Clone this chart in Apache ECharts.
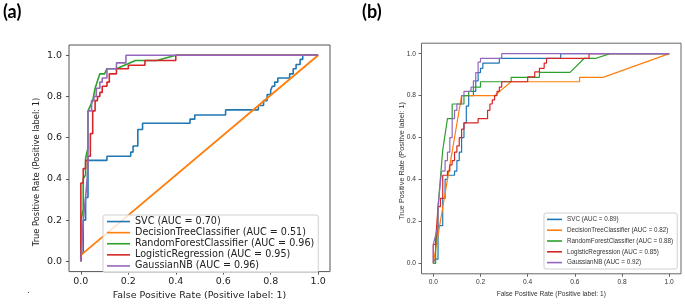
<!DOCTYPE html>
<html><head><meta charset="utf-8">
<script src="https://cdn.jsdelivr.net/npm/echarts@6/dist/echarts.min.js"></script>
<style>html,body{margin:0;padding:0;background:#fff}#c{width:685px;height:306px}</style>
</head><body><div id="c"></div>
<script>
// ---- data ----
const tickValues = [0, 0.2, 0.4, 0.6, 0.8, 1.0];
const xTitle = 'False Positive Rate (Positive label: 1)';
const yTitle = 'True Positive Rate (Positive label: 1)';
const panelLabels = ['(a)', '(b)'];
const namesA = ['SVC (AUC = 0.70)', 'DecisionTreeClassifier (AUC = 0.51)', 'RandomForestClassifier (AUC = 0.96)', 'LogisticRegression (AUC = 0.95)', 'GaussianNB (AUC = 0.96)'];
const namesB = ['SVC (AUC = 0.89)', 'DecisionTreeClassifier (AUC = 0.82)', 'RandomForestClassifier (AUC = 0.88)', 'LogisticRegression (AUC = 0.85)', 'GaussianNB (AUC = 0.92)'];

// panel (a): [fpr, tpr]
const svcA = [[0,0],[0,0.04],[0.01,0.04],[0.01,0.2],[0.02,0.2],[0.02,0.31],[0.03,0.31],[0.03,0.49],[0.11,0.49],[0.11,0.51],[0.21,0.51],[0.21,0.53],[0.22,0.53],[0.22,0.56],[0.24,0.56],[0.24,0.64],[0.26,0.64],[0.26,0.67],[0.46,0.67],[0.46,0.69],[0.48,0.69],[0.48,0.71],[0.61,0.71],[0.61,0.735],[0.748,0.735],[0.748,0.756],[0.77,0.756],[0.77,0.78],[0.785,0.78],[0.785,0.81],[0.8,0.81],[0.8,0.83],[0.807,0.83],[0.807,0.85],[0.817,0.85],[0.817,0.87],[0.83,0.87],[0.83,0.89],[0.88,0.89],[0.88,0.91],[0.895,0.91],[0.895,0.935],[0.907,0.935],[0.907,0.955],[0.924,0.955],[0.924,0.98],[0.935,0.98],[0.935,1],[1,1]];
const dtA = [[0,0],[0,0.03],[1,1]];
const rfA = [[0,0],[0,0.2],[0.01,0.25],[0.01,0.4],[0.02,0.42],[0.02,0.5],[0.03,0.55],[0.03,0.73],[0.05,0.78],[0.06,0.84],[0.08,0.91],[0.1,0.91],[0.11,0.935],[0.15,0.935],[0.23,0.975],[0.32,0.975],[0.4,1],[1,1]];
const lrA = [[0,0],[0,0.38],[0.01,0.38],[0.01,0.45],[0.02,0.45],[0.02,0.49],[0.03,0.49],[0.03,0.51],[0.04,0.51],[0.04,0.62],[0.05,0.62],[0.05,0.73],[0.06,0.73],[0.06,0.78],[0.07,0.78],[0.07,0.8],[0.08,0.8],[0.08,0.82],[0.09,0.82],[0.09,0.85],[0.11,0.85],[0.11,0.87],[0.12,0.87],[0.12,0.91],[0.15,0.91],[0.15,0.935],[0.2,0.935],[0.2,0.952],[0.27,0.952],[0.27,0.975],[0.4,0.975],[0.4,1],[1,1]];
const gnbA = [[0,0],[0.01,0.2],[0.02,0.31],[0.03,0.45],[0.03,0.73],[0.045,0.73],[0.045,0.78],[0.055,0.78],[0.055,0.8],[0.065,0.8],[0.065,0.84],[0.08,0.84],[0.08,0.87],[0.09,0.87],[0.09,0.89],[0.11,0.89],[0.11,0.935],[0.15,0.935],[0.15,0.963],[0.19,0.963],[0.19,1],[1,1]];

// panel (b): [fpr, tpr]
const svcB = [[0,0],[0.007,0],[0.007,0.02],[0.02,0.02],[0.02,0.18],[0.04,0.18],[0.04,0.31],[0.05,0.31],[0.05,0.4],[0.06,0.4],[0.06,0.42],[0.09,0.42],[0.09,0.44],[0.1,0.44],[0.1,0.49],[0.11,0.49],[0.11,0.53],[0.12,0.53],[0.12,0.6],[0.13,0.6],[0.13,0.67],[0.14,0.67],[0.14,0.75],[0.15,0.75],[0.15,0.8],[0.17,0.8],[0.17,0.82],[0.18,0.82],[0.18,0.87],[0.19,0.87],[0.19,0.91],[0.2,0.91],[0.2,0.93],[0.21,0.93],[0.21,0.955],[0.28,0.955],[0.28,0.978],[0.54,0.978],[0.54,1],[1,1]];
const dtB = [[0,0],[0.12,0.8],[0.26,0.8],[0.33,0.866],[0.62,0.866],[0.62,0.887],[0.72,0.887],[1,1]];
const rfB = [[0,0],[0.01,0],[0.01,0.09],[0.02,0.18],[0.02,0.27],[0.04,0.54],[0.06,0.69],[0.08,0.69],[0.08,0.76],[0.13,0.76],[0.13,0.8],[0.15,0.8],[0.15,0.82],[0.17,0.82],[0.17,0.84],[0.2,0.84],[0.2,0.866],[0.33,0.866],[0.33,0.887],[0.45,0.887],[0.45,0.911],[0.58,0.911],[0.64,0.978],[0.69,0.978],[0.75,1],[1,1]];
const lrB = [[0,0],[0,0.09],[0.01,0.09],[0.01,0.11],[0.02,0.27],[0.03,0.27],[0.03,0.31],[0.04,0.31],[0.04,0.42],[0.06,0.42],[0.06,0.44],[0.07,0.44],[0.07,0.47],[0.08,0.47],[0.08,0.49],[0.09,0.49],[0.09,0.53],[0.1,0.53],[0.1,0.56],[0.11,0.56],[0.11,0.6],[0.12,0.6],[0.12,0.64],[0.13,0.64],[0.13,0.67],[0.19,0.67],[0.19,0.69],[0.23,0.69],[0.23,0.73],[0.24,0.73],[0.24,0.76],[0.25,0.76],[0.25,0.78],[0.26,0.78],[0.26,0.8],[0.27,0.8],[0.27,0.82],[0.28,0.82],[0.28,0.84],[0.29,0.84],[0.29,0.866],[0.4,0.866],[0.4,0.889],[0.43,0.889],[0.43,0.913],[0.45,0.913],[0.45,0.93],[0.47,0.93],[0.47,0.955],[0.48,0.955],[0.48,0.978],[0.66,0.978],[0.66,1],[1,1]];
const gnbB = [[0,0],[0,0.09],[0.02,0.18],[0.02,0.27],[0.035,0.44],[0.05,0.44],[0.05,0.49],[0.06,0.49],[0.06,0.53],[0.07,0.53],[0.07,0.6],[0.08,0.6],[0.08,0.69],[0.09,0.69],[0.09,0.73],[0.1,0.73],[0.1,0.76],[0.12,0.76],[0.12,0.8],[0.13,0.8],[0.13,0.82],[0.16,0.82],[0.16,0.84],[0.17,0.84],[0.17,0.87],[0.18,0.87],[0.18,0.91],[0.19,0.91],[0.19,0.96],[0.2,0.96],[0.2,0.978],[0.29,0.978],[0.29,1],[1,1]];

const seriesA = [svcA, dtA, rfA, lrA, gnbA];
const seriesB = [svcB, dtB, rfB, lrB, gnbB];
const colors = ['#1f77b4', '#ff7f0e', '#2ca02c', '#d62728', '#9467bd'];

// ---- styles ----
const P = [
  { grid: {left: 69, top: 45, width: 261, height: 231}, font: 'DejaVu Sans', fs: 9.5, yfs: 8.3, txt: '#222', frame: '#555',
    xMargin: 4.5, yMargin: 7, xGap: 13, yTitlePos: [37, 172], lw: 1.6,
    legend: {left: 103, top: 215, itemWidth: 23, lh: 11.1, pad: [1, 4, 1, 4], fs: 9.6} },
  { grid: {left: 421.5, top: 43.2, width: 259.5, height: 230.6}, font: 'Liberation Sans', fs: 6.6, yfs: 7.3, txt: '#333', frame: '#666',
    xMargin: 5, yMargin: 5.5, xGap: 14.5, yTitlePos: [401.7, 161], lw: 1.2,
    legend: {left: 544, top: 213, itemWidth: 15, lh: 10.8, pad: [1, 4, 1, 3], fs: 6.3} }
];
const fmt = v => v.toFixed(1);

const grids = [], xAxes = [], yAxes = [], legends = [], series = [], graphics = [];
P.forEach((p, i) => {
  grids.push(Object.assign({show: true, borderColor: p.frame, borderWidth: 1, backgroundColor: 'transparent'}, p.grid));
  const common = {
    type: 'value', gridIndex: i, min: -0.05, max: 1.05,
    axisLine: {show: false, onZero: false},
    splitLine: {show: false},
    axisTick: {show: true, customValues: tickValues, length: 3, lineStyle: {color: p.frame, width: 1}},
    nameLocation: 'middle'
  };
  xAxes.push(Object.assign({}, common, {
    axisLabel: {customValues: tickValues, formatter: fmt, margin: p.xMargin, fontSize: p.fs, fontFamily: p.font, color: p.txt},
    name: xTitle, nameGap: p.xGap, nameTextStyle: {fontSize: p.fs, fontFamily: p.font, color: p.txt}
  }));
  yAxes.push(Object.assign({}, common, {
    axisLabel: {customValues: tickValues, formatter: fmt, margin: p.yMargin, fontSize: p.fs, fontFamily: p.font, color: p.txt}
  }));
  graphics.push({
    type: 'text', x: p.yTitlePos[0], y: p.yTitlePos[1], rotation: Math.PI / 2,
    style: {text: yTitle, fontSize: p.yfs, fontFamily: p.font, fill: p.txt, align: 'center', verticalAlign: 'middle'}
  });
  const names = i === 0 ? namesA : namesB;
  const data = i === 0 ? seriesA : seriesB;
  legends.push({
    data: names, orient: 'vertical', left: p.legend.left, top: p.legend.top,
    icon: 'rect', itemWidth: p.legend.itemWidth, itemHeight: 1.6, itemGap: 0,
    padding: p.legend.pad, borderColor: '#cfcfcf', borderWidth: 1, borderRadius: 2,
    backgroundColor: 'rgba(255,255,255,0.8)', selectedMode: false,
    textStyle: {fontFamily: p.font, fontSize: p.legend.fs, lineHeight: p.legend.lh, color: p.txt}
  });
  data.forEach((d, j) => {
    series.push({
      type: 'line', name: names[j], xAxisIndex: i, yAxisIndex: i, data: d,
      symbol: 'none', showSymbol: false, silent: true,
      lineStyle: {color: colors[j], width: (i === 0 && j === 1) ? 1.9 : p.lw},
      itemStyle: {color: colors[j]}
    });
  });
});

graphics.push(
  {type: 'text', left: 3, top: 3, style: {text: panelLabels[0], fontFamily: 'Lato', fontWeight: 'bold', fontSize: 18, fill: '#000'}},
  {type: 'text', left: 362, top: 3, style: {text: panelLabels[1], fontFamily: 'Lato', fontWeight: 'bold', fontSize: 18, fill: '#000'}},
  {type: 'text', left: 27, top: 286, style: {text: '.', fontFamily: 'DejaVu Sans', fontSize: 9, fill: '#333'}}
);

const chart = echarts.init(document.getElementById('c'), null, {renderer: 'canvas'});
chart.setOption({
  animation: false,
  backgroundColor: '#fff',
  grid: grids, xAxis: xAxes, yAxis: yAxes, legend: legends, series: series,
  graphic: graphics
});
</script></body></html>
